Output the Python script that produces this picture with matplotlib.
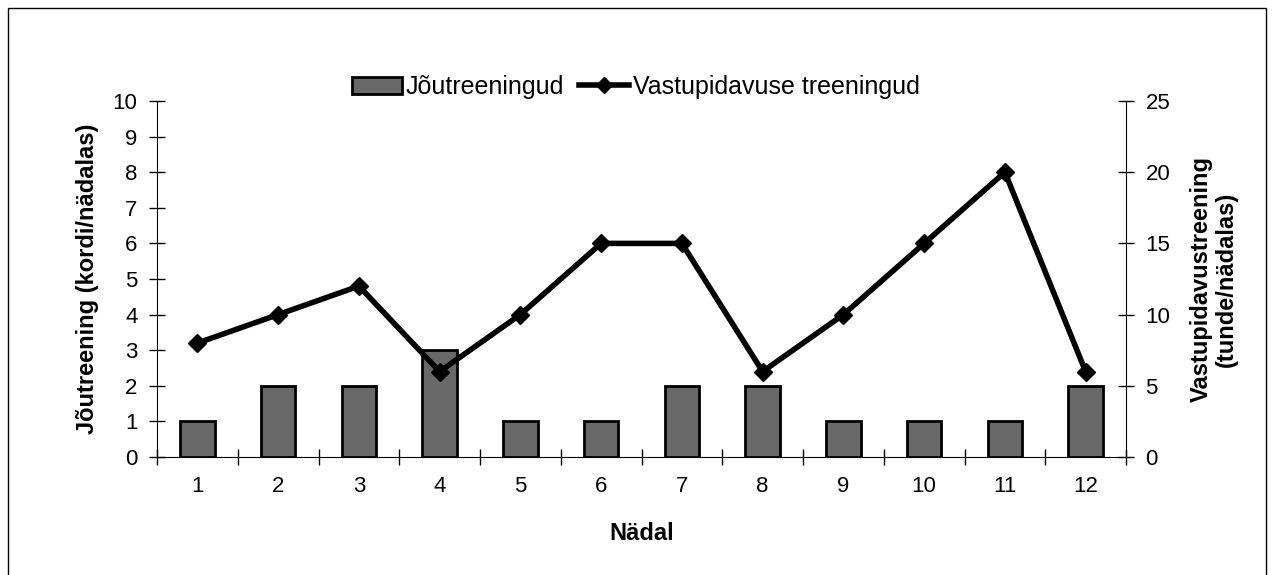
import numpy as np
from matplotlib import pyplot as plt
from matplotlib.lines import Line2D
from matplotlib.patches import Patch, Rectangle

plt.rcParams['font.family'] = ['Liberation Sans', 'DejaVu Sans']

weeks = ['1', '2', '3', '4', '5', '6', '7', '8', '9', '10', '11', '12']
strength = [1, 2, 2, 3, 1, 1, 2, 2, 1, 1, 1, 2]
endurance = [8, 10, 12, 6, 10, 15, 15, 6, 10, 15, 20, 6]

fig = plt.figure(figsize=(12.72, 5.75), dpi=100)
ax = fig.add_axes([157 / 1272, 1 - 457 / 575, (1126 - 157) / 1272, (457 - 101) / 575])
ax2 = ax.twinx()

x = np.arange(len(weeks))
ax.bar(x, strength, width=0.43, color='#696969', edgecolor='black', linewidth=2, zorder=2)
ax.set_xlim(-0.5, len(weeks) - 0.5)
ax.set_ylim(0, 10)
ax.set_yticks(range(0, 11))
ax.set_xticks(x)
ax.set_xticklabels(weeks)
ax.set_xticks(np.arange(-0.5, len(weeks)), minor=True)
ax.tick_params(axis='x', which='major', length=0, pad=14, labelsize=16)
ax.tick_params(axis='x', which='minor', direction='inout', length=12, width=1)
ax.tick_params(axis='y', direction='inout', length=12, width=1, labelsize=16, pad=8)

ax2.plot(x, endurance, color='black', linewidth=4, marker='D', markersize=9, zorder=3)
ax2.set_ylim(0, 25)
ax2.set_yticks(range(0, 26, 5))
ax2.tick_params(axis='y', direction='inout', length=12, width=1, labelsize=16, pad=8)

for a in (ax, ax2):
    a.spines['top'].set_visible(False)
ax.spines['right'].set_visible(False)
ax2.spines['left'].set_visible(False)
ax2.spines['bottom'].set_visible(False)

ax.set_xlabel('Nädal', fontsize=17, fontweight='bold', labelpad=18)
ax.set_ylabel('Jõutreening (kordi/nädalas)', fontsize=17, fontweight='bold', labelpad=10)
ax2.set_ylabel('Vastupidavustreening\n(tunde/nädalas)', fontsize=17, fontweight='bold',
               rotation=90, labelpad=14, linespacing=1.1)

handles = [Patch(facecolor='#696969', edgecolor='black', linewidth=2),
           Line2D([], [], color='black', linewidth=4, marker='D', markersize=8)]
fig.legend(handles, ['Jõutreeningud', 'Vastupidavuse treeningud'], loc='center',
           bbox_to_anchor=(0.5, 1 - 87 / 575), ncol=2, frameon=False, fontsize=18,
           handlelength=2.0, handletextpad=0.15, columnspacing=0.6)

fig.patches.append(Rectangle((8 / 1272, -0.05), (1266 - 8) / 1272, 1.05 - 8 / 575,
                             transform=fig.transFigure, fill=False, edgecolor='black', linewidth=1))

fig.savefig('out.png', dpi=100)
